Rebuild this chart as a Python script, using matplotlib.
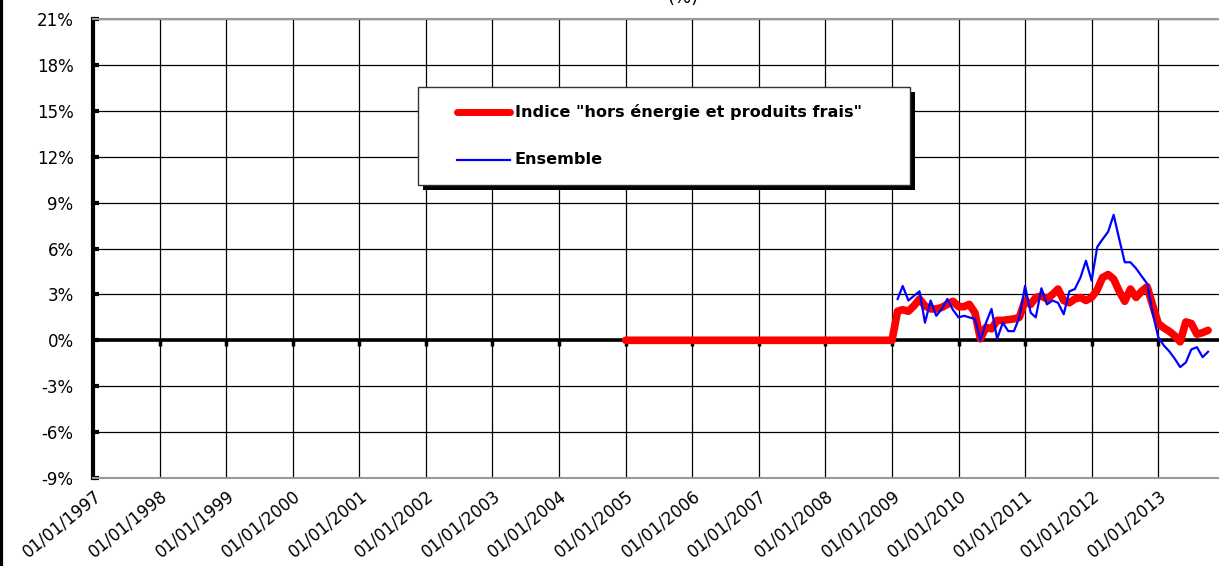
import matplotlib
matplotlib.use('Agg')
import matplotlib.pyplot as plt
import matplotlib.dates as mdates
from matplotlib.lines import Line2D
from matplotlib.patches import Rectangle
from matplotlib.ticker import FuncFormatter
import pandas as pd

# glissement annuel (%), mensuel
# indice "hors energie et produits frais" : 01/2005 -> 10/2013
core_start = '2005-01-01'
core_values = [
    0.0, 0.0, 0.0, 0.0, 0.0, 0.0, 0.0, 0.0, 0.0, 0.0, 0.0, 0.0,   # 2005
    0.0, 0.0, 0.0, 0.0, 0.0, 0.0, 0.0, 0.0, 0.0, 0.0, 0.0, 0.0,   # 2006
    0.0, 0.0, 0.0, 0.0, 0.0, 0.0, 0.0, 0.0, 0.0, 0.0, 0.0, 0.0,   # 2007
    0.0, 0.0, 0.0, 0.0, 0.0, 0.0, 0.0, 0.0, 0.0, 0.0, 0.0, 0.0,   # 2008
    0.0, 1.9, 2.0, 1.9, 2.25, 2.7, 2.25, 2.05, 2.05, 2.15, 2.35, 2.55,   # 2009
    2.2, 2.2, 2.35, 1.8, 0.1, 0.85, 0.75, 1.3, 1.3, 1.35, 1.4, 1.5,     # 2010
    2.6, 2.35, 2.8, 2.9, 2.7, 3.0, 3.35, 2.6, 2.45, 2.7, 2.8, 2.6,      # 2011
    2.8, 3.3, 4.1, 4.3, 4.0, 3.2, 2.55, 3.35, 2.8, 3.2, 3.5, 2.3,       # 2012
    1.1, 0.8, 0.6, 0.3, -0.1, 1.2, 1.1, 0.4, 0.5, 0.65,                 # 2013
]

# ensemble : 02/2009 -> 10/2013
all_start = '2009-02-01'
all_values = [
    2.7, 3.55, 2.6, 2.9, 3.2, 1.15, 2.6, 1.6, 2.05, 2.7, 2.0,           # 2009
    1.5, 1.6, 1.5, 1.4, 0.0, 1.15, 2.05, 0.1, 1.15, 0.6, 0.6, 1.5,      # 2010
    3.55, 1.8, 1.5, 3.4, 2.35, 2.6, 2.45, 1.7, 3.2, 3.35, 4.1, 5.2,     # 2011
    3.9, 6.1, 6.6, 7.1, 8.2, 6.6, 5.1, 5.1, 4.7, 4.2, 3.7, 1.8,         # 2012
    0.2, -0.35, -0.7, -1.2, -1.75, -1.45, -0.6, -0.45, -1.1, -0.75,     # 2013
]

core_label = 'Indice "hors énergie et produits frais"'
all_label = 'Ensemble'

core_dates = pd.date_range(core_start, periods=len(core_values), freq='MS')
all_dates = pd.date_range(all_start, periods=len(all_values), freq='MS')

W, H = 1219, 566
def fx(x):
    return x / W
def fy(y):
    return 1 - y / H

fig = plt.figure(figsize=(W / 100, H / 100), dpi=100)
ax = fig.add_axes([fx(93), fy(478), 1 - fx(93), (478 - 19) / H])

ax.axhline(0, color='black', lw=2.6, zorder=2)
ax.plot(core_dates, core_values, color='#ff0000', lw=5.5, solid_capstyle='round',
        solid_joinstyle='round', zorder=3)
ax.plot(all_dates, all_values, color='#0000ff', lw=1.6, zorder=4)

ax.set_ylim(-9, 21)
ax.set_yticks(range(-9, 22, 3))
ax.yaxis.set_major_formatter(FuncFormatter(lambda v, p: '%d%%' % v))
ax.set_xlim(pd.Timestamp('1997-01-01'), pd.Timestamp('2013-11-30'))
ax.xaxis.set_major_locator(mdates.YearLocator())
ax.xaxis.set_major_formatter(mdates.DateFormatter('%d/%m/%Y'))

# petits repères sur l'axe des abscisses (ligne du zéro)
years = pd.date_range('1998-01-01', '2013-01-01', freq='YS')
ax.plot(years, [0] * len(years), ls='none', marker=3, ms=4, mew=2.5,
        color='black', zorder=2)

ax.grid(True, color='black', lw=0.9)
ax.set_axisbelow(True)
ax.spines['left'].set_linewidth(3)
ax.spines['left'].set_color('black')
ax.spines['right'].set_visible(False)
for s in ['top', 'bottom']:
    ax.spines[s].set_color('#999999')
    ax.spines[s].set_linewidth(1.5)

ax.tick_params(axis='y', direction='in', length=4, width=3, pad=14, labelsize=12)
ax.tick_params(axis='x', length=0, pad=6, labelsize=12)
for lbl in ax.get_xticklabels():
    lbl.set_rotation(39)
    lbl.set_ha('right')
    lbl.set_rotation_mode('anchor')

# legende (cadre avec ombre)
fig.add_artist(Rectangle((fx(423), fy(190)), fx(910) - fx(418), (185 - 87) / H,
                         transform=fig.transFigure, facecolor='black',
                         edgecolor='none', zorder=5))
fig.add_artist(Rectangle((fx(418), fy(185)), fx(910) - fx(418), (185 - 87) / H,
                         transform=fig.transFigure, facecolor='white',
                         edgecolor='#333333', lw=1, zorder=6))
fig.add_artist(Line2D([fx(457), fx(510)], [fy(112), fy(112)], transform=fig.transFigure,
                      color='#ff0000', lw=5, solid_capstyle='round', zorder=7))
fig.add_artist(Line2D([fx(457), fx(510)], [fy(160), fy(160)], transform=fig.transFigure,
                      color='#0000ff', lw=1.6, zorder=7))
fig.text(fx(515), fy(112), core_label, fontsize=11.6, fontweight='bold',
         va='center', ha='left', zorder=8)
fig.text(fx(515), fy(160), all_label, fontsize=11.6, fontweight='bold',
         va='center', ha='left', zorder=8)

fig.text(fx(683), 1.003, '(%)', fontsize=13, ha='center', va='center')
fig.add_artist(Line2D([0.001, 0.001], [0, 1], transform=fig.transFigure,
                      color='black', lw=3))

fig.savefig('out.png', dpi=100)
